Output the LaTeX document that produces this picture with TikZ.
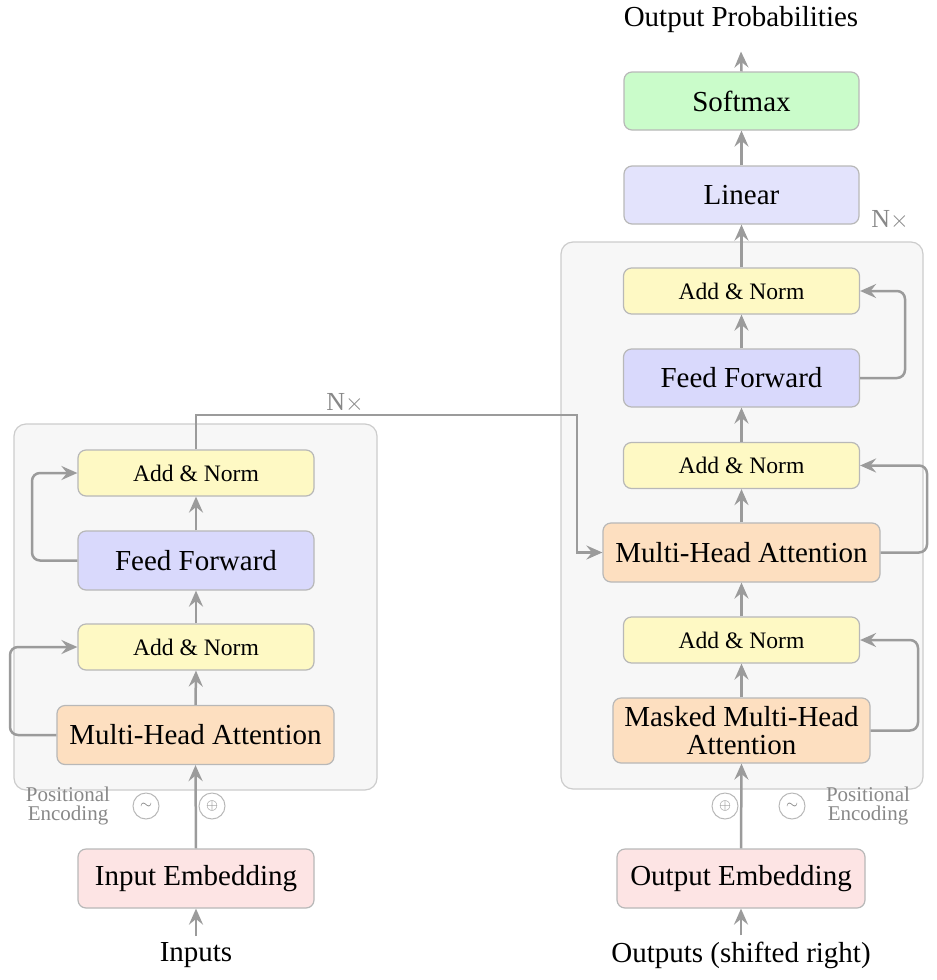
\documentclass[tikz,border=0pt]{standalone}
\usepackage{fontspec}
\setmainfont{Liberation Serif}
\usetikzlibrary{arrows.meta}
\definecolor{anfill}{RGB}{254,249,196}
\definecolor{fffill}{RGB}{217,217,252}
\definecolor{mhafill}{RGB}{253,223,192}
\definecolor{embfill}{RGB}{253,228,228}
\definecolor{linfill}{RGB}{227,227,252}
\definecolor{smfill}{RGB}{202,252,202}
\definecolor{bordergray}{RGB}{184,184,184}
\definecolor{stackfill}{RGB}{247,247,247}
\definecolor{stackdraw}{RGB}{204,204,204}
\definecolor{arrgray}{RGB}{155,155,155}
\definecolor{labgray}{RGB}{136,136,136}
\begin{document}
\begin{tikzpicture}[x=0.5pt,y=-0.5pt,
  blk/.style={draw=bordergray, line width=0.6pt, rounded corners=4pt, inner sep=0pt, align=center, font=\fontsize{14.5}{14}\selectfont},
  an/.style={blk, fill=anfill, minimum width=118pt, minimum height=23pt, font=\fontsize{11.8}{13}\selectfont},
  ff/.style={blk, fill=fffill, minimum width=118pt, minimum height=29.5pt},
  mha/.style={blk, fill=mhafill, minimum height=29.5pt},
  emb/.style={blk, fill=embfill, minimum height=29.5pt},
  stack/.style={draw=stackdraw, fill=stackfill, line width=0.6pt, rounded corners=6pt},
  arr/.style={draw=arrgray, line width=1.25pt, -{Stealth[length=8pt,width=7pt,inset=2.8pt]}},
  txt/.style={inner sep=0pt, font=\fontsize{14.5}{16}\selectfont},
  nx/.style={inner sep=0pt, text=labgray, font=\fontsize{13}{14}\selectfont},
  poslab/.style={inner sep=0pt, text=labgray, align=center, font=\fontsize{10.5}{9.6}\selectfont},
  circ/.style={circle, draw=bordergray, line width=0.5pt, minimum size=13pt, inner sep=0pt, text=labgray, font=\scriptsize},
]
\useasboundingbox (0,0) rectangle (937,980);

% stacks
\draw[stack] (14,424) rectangle (377,790);
\draw[stack] (561,242) rectangle (923,789);

% encoder
\node[an]  (eAN2) at (196,473) {Add \& Norm};
\node[ff]  (eFF)  at (196,560.5) {Feed Forward};
\node[an]  (eAN1) at (196,647) {Add \& Norm};
\node[mha, minimum width=138.5pt] (eMHA) at (195.5,735) {Multi-Head Attention};
\node[emb, minimum width=118pt] (eEmb) at (196,878.5) {Input Embedding};
\node[txt] (inp) at (196,955) {Inputs};
\node[nx] (nxl) at (345,403) {N$\times$};
\node[poslab] (posl) at (68,806) {Positional\\Encoding};
\node[circ] (sinl) at (146,806) {$\sim$};
\node[circ] (addl) at (212,806) {$\oplus$};

% decoder
\node[an]  (dAN3) at (741.5,291) {Add \& Norm};
\node[ff, minimum height=29pt]  (dFF)  at (741.5,378) {Feed Forward};
\node[an]  (dAN2) at (741.5,465.5) {Add \& Norm};
\node[mha, minimum width=138.5pt] (dMHA) at (741.5,552.5) {Multi-Head Attention};
\node[an]  (dAN1) at (741.5,640) {Add \& Norm};
\node[mha, minimum width=128.5pt, minimum height=32.5pt] (dMMHA) at (741.5,730.5) {Masked Multi-Head\\Attention};
\node[emb, minimum width=124pt] (dEmb) at (741,878.5) {Output Embedding};
\node[txt] (outs) at (741,955) {Outputs (shifted right)};
\node[blk, fill=linfill, minimum width=117.5pt, minimum height=29pt] (lin) at (741.5,195) {Linear};
\node[blk, fill=smfill, minimum width=117.5pt, minimum height=29pt] (sm) at (741.5,101) {Softmax};
\node[txt] (outp) at (741,20) {Output Probabilities};
\node[nx] (nxr) at (890,220) {N$\times$};
\node[circ] (addr) at (725,806) {$\oplus$};
\node[circ] (sinr) at (792,806) {$\sim$};
\node[poslab] (posr) at (868,806) {Positional\\Encoding};

% encoder connectors
\draw[arr] (inp.north) ++(0,-6) -- (eEmb.south);
\draw[arr] (eEmb.north) -- (eMHA.south);
\draw[arr] (eMHA.north) -- (eAN1.south);
\draw[arr] (eAN1.north) -- (eFF.south);
\draw[arr] (eFF.north) -- (eAN2.south);
\draw[arr, rounded corners=4pt] (eMHA.west) -- (10,735) |- (eAN1.west);
\draw[arr, rounded corners=4pt] (eFF.west) -- (32,560.5) |- (eAN2.west);
\coordinate (bend) at (577,415);
\draw[arr] (eAN2.north) |- (bend) |- (dMHA.west);

% decoder connectors
\draw[arr] (outs.north) ++(0,-6) -- (dEmb.south);
\draw[arr] (dEmb.north) -- (dMMHA.south);
\draw[arr] (dMMHA.north) -- (dAN1.south);
\draw[arr] (dAN1.north) -- (dMHA.south);
\draw[arr] (dMHA.north) -- (dAN2.south);
\draw[arr] (dAN2.north) -- (dFF.south);
\draw[arr] (dFF.north) -- (dAN3.south);
\draw[arr] (dAN3.north) -- (lin.south);
\draw[arr] (lin.north) -- (sm.south);
\draw[arr] (sm.north) -- ([yshift=-9pt]outp.south);
\draw[arr, rounded corners=4pt] (dMMHA.east) -- (918,730.5) |- (dAN1.east);
\draw[arr, rounded corners=4pt] (dMHA.east) -- (927,552.5) |- (dAN2.east);
\draw[arr, rounded corners=4pt] (dFF.east) -- (905,378) |- (dAN3.east);
\end{tikzpicture}
\end{document}
